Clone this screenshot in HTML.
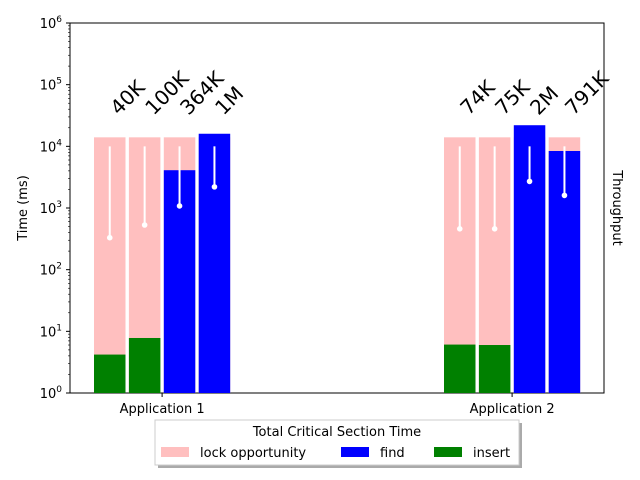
<!DOCTYPE html>
<html><head><meta charset="utf-8"><style>body{margin:0;background:#fff}svg{display:block;font-family:"DejaVu Sans","Liberation Sans",sans-serif}</style></head>
<body>
<svg id="c" width="640" height="480" xmlns="http://www.w3.org/2000/svg">
<rect x="70" y="23" width="534" height="370" fill="#fff" stroke="#000" stroke-width="1"/>
<g id="marks"></g>
<g id="axes"></g>
<text x="0" y="0" transform="translate(27,208) rotate(-90)" font-size="13" text-anchor="middle">Time (ms)</text>
<text x="0" y="0" transform="translate(613,208) rotate(90)" font-size="13" text-anchor="middle">Throughput</text>
<g>
<rect x="158" y="423" width="364" height="45" fill="#555" opacity="0.5"/>
<rect x="155" y="420" width="364" height="45" fill="#fff" stroke="#ccc"/>
<text x="337" y="436" font-size="13" text-anchor="middle">Total Critical Section Time</text>
<rect x="161" y="447" width="28" height="10" fill="#ffbfbf"/>
<text x="200" y="457" font-size="13">lock opportunity</text>
<rect x="341" y="447" width="28" height="10" fill="#0000ff"/>
<text x="380" y="457" font-size="13">find</text>
<rect x="434" y="447" width="28" height="10" fill="#008000"/>
<text x="473" y="457" font-size="13">insert</text>
</g>
</svg>
<script>
const groups = ["Application 1", "Application 2"];
const lockVals = [14000, 14000, 14000, 14000, 14000, 14000, 14000, 14000];
const findVals = [0, 0, 4100, 16000, 0, 0, 22000, 8400];
const insertVals = [4.2, 7.8, 0, 0, 6.1, 6.0, 0, 0];
const throughputVals = [330, 530, 1080, 2200, 460, 460, 2700, 1600];
const barLabels = ["40K", "100K", "364K", "1M", "74K", "75K", "2M", "791K"];
const yTicks = [0, 1, 2, 3, 4, 5, 6];

const NS = "http://www.w3.org/2000/svg";
const top0 = 23, bot = 393, decade = (bot - top0) / 6;
function y(v) { return bot - Math.log10(Math.max(v, 1)) * decade; }
const groupLeft = [94, 444], barStep = 34.9, barW = 31.5;
function bx(i) { return groupLeft[Math.floor(i / 4)] + (i % 4) * barStep; }
function mk(tag, attrs, parent) { const e = document.createElementNS(NS, tag); for (const k in attrs) e.setAttribute(k, attrs[k]); parent.appendChild(e); return e; }
const marks = document.getElementById("marks"), axes = document.getElementById("axes");

lockVals.forEach((v, i) => {
  const x = bx(i);
  const r = mk("rect", {x: x, y: y(v), width: barW, height: bot - y(v), fill: "#ffbfbf"}, marks);
  
  
  if (findVals[i] > 0) {
    const f = mk("rect", {x: x, y: y(findVals[i]), width: barW, height: bot - y(findVals[i]), fill: "#0000ff"}, marks);
    
    
  }
  if (insertVals[i] > 0) {
    const g = mk("rect", {x: x, y: y(insertVals[i]), width: barW, height: bot - y(insertVals[i]), fill: "#008000"}, marks);
    
    
  }
  const cx = x + barW / 2;
  const l = mk("line", {x1: cx, x2: cx, y1: y(10000), y2: y(throughputVals[i]), stroke: "#fff", "stroke-width": 2}, marks);
  
  
  const d = mk("circle", {cx: cx, cy: y(throughputVals[i]), r: 2.8, fill: "#fff"}, marks);
  
  
  const t = mk("text", {x: 0, y: 0, transform: `translate(${cx + 9},${116}) rotate(-45)`, "font-size": 20}, marks);
  t.textContent = barLabels[i];
  
  
});

yTicks.forEach(p => {
  const yy = y(Math.pow(10, p));
  mk("line", {x1: 66, x2: 70, y1: yy, y2: yy, stroke: "#000"}, axes);
  const t = mk("text", {x: 62, y: yy + 5, "font-size": 13, "text-anchor": "end"}, axes);
  t.innerHTML = '10<tspan dy="-6" font-size="9">' + p + '</tspan>';
  
  
  if (p < 6) for (let k = 2; k < 10; k++) {
    const ym = y(k * Math.pow(10, p));
    mk("line", {x1: 68, x2: 70, y1: ym, y2: ym, stroke: "#000", "stroke-width": 0.6}, axes);
  }
});
groups.forEach((g, gi) => {
  const cx = groupLeft[gi] + (3 * barStep + barW) / 2;
  mk("line", {x1: cx, x2: cx, y1: bot, y2: bot + 4, stroke: "#000"}, axes);
  const t = mk("text", {x: cx, y: bot + 20, "font-size": 13, "text-anchor": "middle"}, axes);
  t.textContent = g;
  
  
});
</script>
</body></html>
